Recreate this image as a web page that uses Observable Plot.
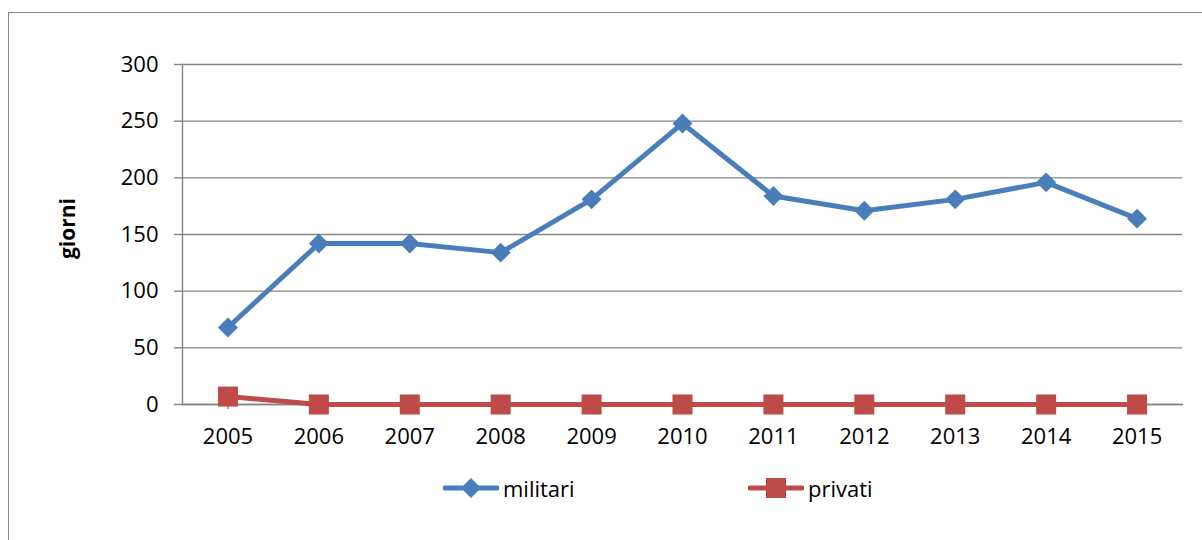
<!DOCTYPE html>
<html>
<head>
<meta charset="utf-8">
<script src="https://cdn.jsdelivr.net/npm/d3@7"></script>
<script src="https://cdn.jsdelivr.net/npm/@observablehq/plot@0.6"></script>
<style>
  html, body { margin: 0; padding: 0; background: #fff; }
  #wrap { position: relative; width: 1202px; height: 540px; overflow: hidden; font-family: "Open Sans", sans-serif; }
  #border { position: absolute; left: 8px; top: 12px; width: 1220px; height: 620px; border: 1.5px solid #8a8a8a; box-sizing: border-box; }
  #chart { position: absolute; left: 0; top: 0; }
  .leg { position: absolute; top: 475px; display: flex; align-items: center; font-size: 22px; color: #000; line-height: 26px; }
  .leg svg { display: block; margin-right: 4px; }
</style>
</head>
<body>
<div id="wrap">
  <div id="border"></div>
  <div id="chart"></div>
  <div class="leg" style="left:443px"><svg width="56" height="26"><line x1="2" x2="54" y1="13" y2="13" stroke="#4a7ebb" stroke-width="5" stroke-linecap="round"/><path d="M28,3 L38,13 L28,23 L18,13 Z" fill="#4a7ebb"/></svg>militari</div>
  <div class="leg" style="left:748px"><svg width="56" height="26"><line x1="2" x2="54" y1="13" y2="13" stroke="#be4b48" stroke-width="5" stroke-linecap="round"/><rect x="18" y="3" width="20" height="20" fill="#be4b48"/></svg>privati</div>
</div>
<script>
const years = ["2005","2006","2007","2008","2009","2010","2011","2012","2013","2014","2015"];
const militari = [68, 142, 142, 134, 181, 248, 184, 171, 181, 196, 164];
const privati = [7, 0, 0, 0, 0, 0, 0, 0, 0, 0, 0];
const yTicks = [0, 50, 100, 150, 200, 250, 300];

const blue = "#4a7ebb", red = "#be4b48", gray = "#858585";
const milData = years.map((y, i) => ({year: y, value: militari[i]}));
const priData = years.map((y, i) => ({year: y, value: privati[i]}));

const chart = Plot.plot({
  width: 1202,
  height: 460,
  marginLeft: 182,
  marginRight: 20,
  marginTop: 64,
  marginBottom: 56,
  style: {fontFamily: "'Open Sans', sans-serif", fontSize: "22px", color: "#000", background: "transparent"},
  x: {type: "point", domain: years, padding: 0.5, round: false},
  y: {domain: [0, 300]},
  marks: [
    Plot.gridY(yTicks, {stroke: gray, strokeOpacity: 1, strokeWidth: 1.4}),
    Plot.axisY({ticks: yTicks, tickSize: 8, tickPadding: 16, stroke: gray, strokeWidth: 1.4, fontSize: 22, fill: "#000", label: null}),
    Plot.axisX({tickSize: 5, tickPadding: 19, stroke: gray, strokeWidth: 1.4, fontSize: 22, fill: "#000", label: null}),
    Plot.frame({anchor: "left", stroke: gray, strokeWidth: 1.4}),
    Plot.frame({anchor: "bottom", stroke: gray, strokeWidth: 1.4}),
    Plot.text(["giorni"], {frameAnchor: "left", textAnchor: "middle", dx: -114, dy: -6, rotate: -90, fontWeight: "bold", fontSize: 21, fill: "#000"}),
    Plot.line(milData, {x: "year", y: "value", stroke: blue, strokeWidth: 5}),
    Plot.dot(milData, {x: "year", y: "value", symbol: "diamond2", r: 9, fill: blue, stroke: "none"}),
    Plot.line(priData, {x: "year", y: "value", stroke: red, strokeWidth: 5}),
    Plot.dot(priData, {x: "year", y: "value", symbol: "square", r: 11.3, fill: red, stroke: "none"})
  ]
});
document.getElementById("chart").appendChild(chart);
</script>
</body>
</html>
